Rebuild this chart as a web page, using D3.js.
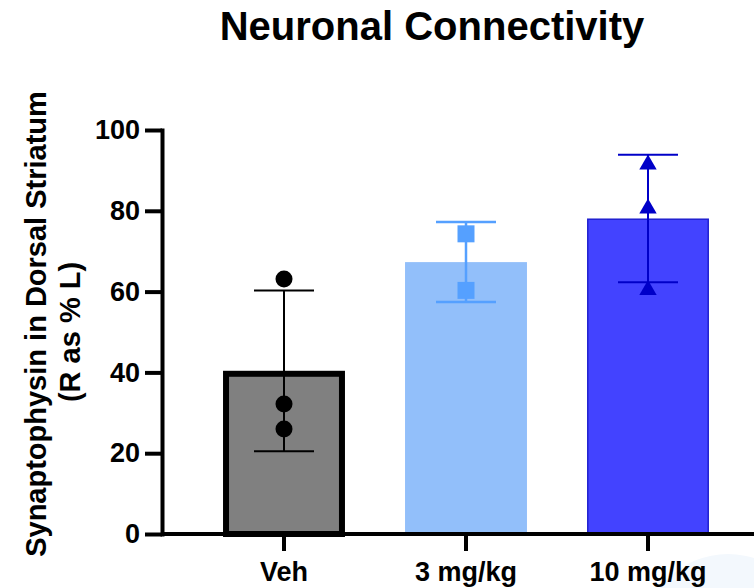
<!DOCTYPE html>
<html>
<head>
<meta charset="utf-8">
<script src="https://cdn.jsdelivr.net/npm/d3@7"></script>
<style>
  html, body { margin: 0; padding: 0; background: #fff; }
  svg { display: block; font-family: "Liberation Sans", Arial, sans-serif; font-weight: bold; }
</style>
</head>
<body>
<div id="chart"></div>
<script>
// values
const categories = ["Veh", "3 mg/kg", "10 mg/kg"]
const means = [40.4, 67.3, 78.1]
const sds = [19.9, 9.9, 15.8]
const points = [
  [63.1, 32.2, 26.0],
  [74.3, 60.3],
  [92.1, 81.2, 61.0]
]
const yTicks = [0, 20, 40, 60, 80, 100]

// per group look
const barFill = ["#808080", "#92bffa", "#4343ff"]
const barStroke = ["#000000", "none", "#2020d0"]
const barStrokeWidth = [6, 0, 1.5]
const errColor = ["#000000", "#55a0ff", "#0000c8"]
const errWidth = [2, 2.5, 2]
const markers = ["circle", "square", "triangle"]

const width = 754
const height = 588

const svg = d3.select("#chart")
  .append("svg")
  .attr("width", width)
  .attr("height", height)

// faint blob in the lower right corner of the original
svg.append("circle")
  .attr("cx", 728)
  .attr("cy", 640)
  .attr("r", 86)
  .attr("fill", "#f3f8fd")

const xScale = d3.scaleBand()
  .domain(categories)
  .range([193, 739])
  .paddingInner(0.33)
  .paddingOuter(0.165)

const yScale = d3.scaleLinear()
  .domain([0, 100])
  .range([534, 130])

const axisX = 162

// bars
svg.selectAll("rect.bar")
  .data(categories)
  .enter()
  .append("rect")
  .attr("class", "bar")
  .attr("x", (d, i) => xScale(d) + barStrokeWidth[i] / 2)
  .attr("y", (d, i) => yScale(means[i]) + barStrokeWidth[i] / 2)
  .attr("width", (d, i) => xScale.bandwidth() - barStrokeWidth[i])
  .attr("height", (d, i) => yScale(0) - yScale(means[i]) - barStrokeWidth[i] / 2)
  .attr("fill", (d, i) => barFill[i])
  .attr("stroke", (d, i) => barStroke[i])
  .attr("stroke-width", (d, i) => barStrokeWidth[i])

// error bars (mean +- SD)
const capHalf = 30
const err = svg.selectAll("g.err")
  .data(categories)
  .enter()
  .append("g")
  .attr("class", "err")
  .attr("stroke", (d, i) => errColor[i])
  .attr("stroke-width", (d, i) => errWidth[i])

err.append("line")
  .attr("x1", d => xScale(d) + xScale.bandwidth() / 2)
  .attr("x2", d => xScale(d) + xScale.bandwidth() / 2)
  .attr("y1", (d, i) => yScale(means[i] + sds[i]))
  .attr("y2", (d, i) => yScale(means[i] - sds[i]))

err.append("line")
  .attr("x1", d => xScale(d) + xScale.bandwidth() / 2 - capHalf)
  .attr("x2", d => xScale(d) + xScale.bandwidth() / 2 + capHalf)
  .attr("y1", (d, i) => yScale(means[i] + sds[i]))
  .attr("y2", (d, i) => yScale(means[i] + sds[i]))

err.append("line")
  .attr("x1", d => xScale(d) + xScale.bandwidth() / 2 - capHalf)
  .attr("x2", d => xScale(d) + xScale.bandwidth() / 2 + capHalf)
  .attr("y1", (d, i) => yScale(means[i] - sds[i]))
  .attr("y2", (d, i) => yScale(means[i] - sds[i]))

// individual points
function markerPath(type) {
  if (type === "square") return "M-8.5,-8.5H8.5V8.5H-8.5Z"
  if (type === "triangle") return "M0,-7.5L8.7,7.5L-8.7,7.5Z"
  return null
}

categories.forEach((cat, i) => {
  const cx = xScale(cat) + xScale.bandwidth() / 2
  const sel = svg.selectAll("dot")
    .data(points[i])
    .enter()
  if (markers[i] === "circle") {
    sel.append("circle")
      .attr("cx", cx)
      .attr("cy", d => yScale(d))
      .attr("r", 8.5)
      .attr("fill", errColor[i])
  } else {
    sel.append("path")
      .attr("d", markerPath(markers[i]))
      .attr("transform", d => `translate(${cx},${yScale(d)})`)
      .attr("fill", errColor[i])
  }
})

// y axis
const yAxis = svg.append("g")
  .attr("transform", `translate(${axisX},0)`)
  .call(d3.axisLeft(yScale).tickValues(yTicks).tickSize(17).tickSizeOuter(0).tickPadding(5))
yAxis.select(".domain")
  .attr("stroke-width", 4)
  .attr("stroke-linecap", "square")
yAxis.selectAll(".tick line").attr("stroke-width", 4)
yAxis.selectAll(".tick text")
  .attr("font-size", 27)
  .attr("font-family", "'Liberation Sans', Arial, sans-serif")
  .attr("font-weight", "bold")
  .attr("fill", "#000")

// x axis
const xAxis = svg.append("g")
  .attr("transform", `translate(0,${yScale(0)})`)
  .call(d3.axisBottom(xScale).tickSize(17).tickSizeOuter(0).tickPadding(11))
xAxis.select(".domain").remove()
xAxis.append("line")
  .attr("x1", axisX)
  .attr("x2", width)
  .attr("stroke", "#000")
  .attr("stroke-width", 4)
xAxis.selectAll(".tick line").attr("stroke-width", 4)
xAxis.selectAll(".tick text")
  .attr("font-size", 27)
  .attr("font-family", "'Liberation Sans', Arial, sans-serif")
  .attr("font-weight", "bold")
  .attr("fill", "#000")

// title
svg.append("text")
  .attr("x", 432)
  .attr("y", 40)
  .attr("text-anchor", "middle")
  .attr("font-size", 40)
  .attr("fill", "#000")
  .text("Neuronal Connectivity")

// y axis title, two lines
const yLabel = svg.append("text")
  .attr("transform", `translate(0,${(yScale(0) + yScale(100)) / 2}) rotate(-90)`)
  .attr("text-anchor", "middle")
  .attr("font-size", 29)
  .attr("fill", "#000")
yLabel.append("tspan")
  .attr("x", 8)
  .attr("y", 46)
  .text("Synaptophysin in Dorsal Striatum")
yLabel.append("tspan")
  .attr("x", 0)
  .attr("y", 80)
  .text("(R as % L)")
</script>
</body>
</html>
